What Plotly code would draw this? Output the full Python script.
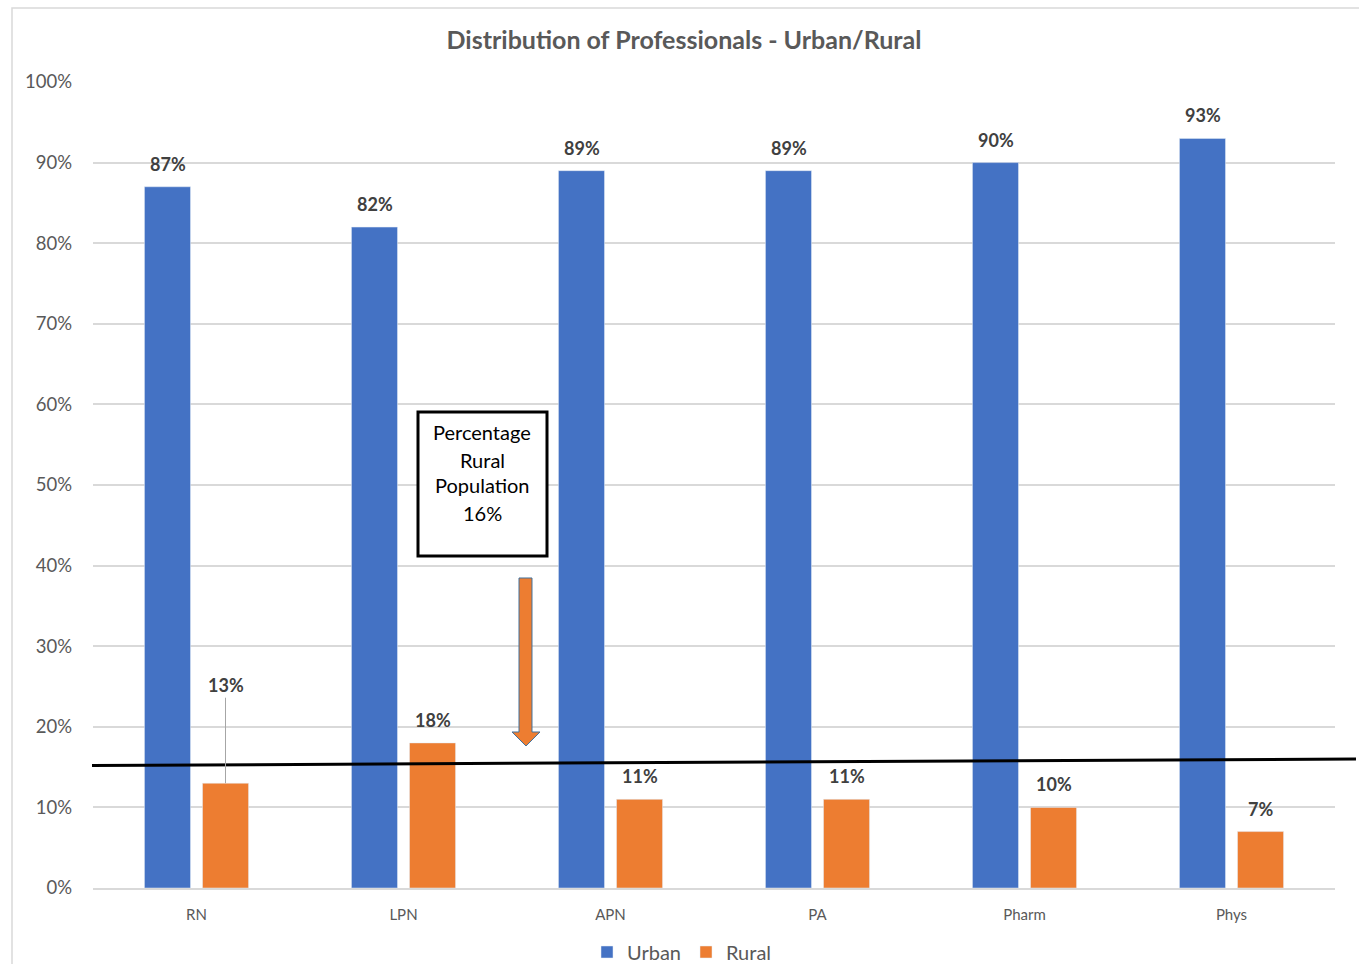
import plotly.graph_objects as go

categories = ["RN", "LPN", "APN", "PA", "Pharm", "Phys"]
urban = [87, 82, 89, 89, 90, 93]
rural = [13, 18, 11, 11, 10, 7]
rural_population = 16
line_left, line_right = 15.2, 16.0

BLUE = "#4472C4"
ORANGE = "#ED7D31"
GRAY = "#595959"
FONT = "Lato"

fig = go.Figure()
fig.add_trace(go.Bar(name="Urban", x=categories, y=urban, marker_color=BLUE))
fig.add_trace(go.Bar(name="Rural", x=categories, y=rural, marker_color=ORANGE))

LBL = dict(size=18, color="#404040", family=FONT)
ann = []
for i, c in enumerate(categories):
    ann.append(dict(x=c, y=urban[i], xshift=-29, yshift=23, text=f"<b>{urban[i]}%</b>",
                    showarrow=False, font=LBL))
    if i == 0:
        ann.append(dict(x=c, y=rural[i], xshift=29, ax=0, ay=-98, text=f"<b>{rural[i]}%</b>",
                        showarrow=True, arrowhead=0, arrowwidth=1, arrowcolor="#A6A6A6",
                        standoff=0, startstandoff=0, font=LBL))
    else:
        ann.append(dict(x=c, y=rural[i], xshift=29, yshift=23, text=f"<b>{rural[i]}%</b>",
                        showarrow=False, font=LBL))

def px(x):
    return (x - 93) / 1242

def py(y):
    return (888 - y) / 806

# text box lines
box_lines = ["Percentage", "Rural", "Population", f"{rural_population}%"]
for t, yy in zip(box_lines, [432, 460, 485, 513]):
    ann.append(dict(xref="paper", yref="paper", x=px(482), y=py(yy), xanchor="center", yanchor="middle",
                    text=t, showarrow=False, font=dict(size=20, color="#000000", family=FONT)))

fig.update_layout(annotations=ann)

shapes = []
# chart border
shapes.append(dict(type="rect", xref="paper", yref="paper", x0=px(12), x1=px(1370), y0=py(975), y1=py(8),
                   line=dict(color="#D9D9D9", width=1.5), layer="below"))
# text box
shapes.append(dict(type="rect", xref="paper", yref="paper", x0=px(418), x1=px(547), y0=py(556), y1=py(412),
                   line=dict(color="#000000", width=3), fillcolor="white"))
# block arrow
pts = [(519, 578), (532, 578), (532, 732), (540, 732), (526, 746), (512, 732), (519, 732)]
path = "M " + " L ".join(f"{px(a):.5f},{py(b):.5f}" for a, b in pts) + " Z"
shapes.append(dict(type="path", xref="paper", yref="paper", path=path, fillcolor=ORANGE,
                   line=dict(color="#41719C", width=1)))
# rural population line
shapes.append(dict(type="line", xref="paper", yref="y", x0=px(92), x1=px(1356), y0=line_left, y1=line_right,
                   line=dict(color="#000000", width=3)))
fig.update_layout(shapes=shapes)

fig.update_layout(
    width=1359, height=964,
    paper_bgcolor="white", plot_bgcolor="white",
    margin=dict(l=93, r=24, t=82, b=76, autoexpand=False),
    title=dict(text="<b>Distribution of Professionals - Urban/Rural</b>", x=684 / 1359,
               xanchor="center", y=1 - 40 / 964, yanchor="middle",
               font=dict(size=25, color=GRAY, family=FONT)),
    barmode="group", bargap=0.439, bargroupgap=0.207,
    font=dict(family=FONT, color=GRAY),
    legend=dict(orientation="h", x=px(682), xanchor="center",
                y=py(952), yanchor="middle", font=dict(size=20, color=GRAY, family=FONT),
                itemwidth=30, tracegroupgap=0),
    yaxis=dict(range=[0, 100], dtick=10, ticksuffix="%", showgrid=True, gridcolor="#D9D9D9", gridwidth=1.5,
               zeroline=False, showline=False, tickfont=dict(size=18.5, color=GRAY, family=FONT),
               ticks="", ticklabelstandoff=20),
    xaxis=dict(showline=True, linecolor="#D9D9D9", linewidth=1.5, tickfont=dict(size=15, color=GRAY, family=FONT),
               ticks="", ticklabelstandoff=12),
)

fig.write_html("out.html")
